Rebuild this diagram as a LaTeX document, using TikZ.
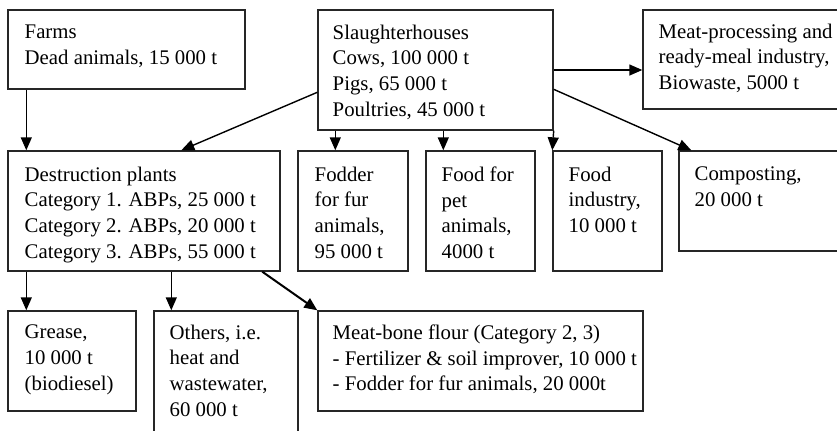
\documentclass[tikz,border=0pt]{standalone}
\usepackage{fontspec}
\setmainfont{Liberation Serif}
\usetikzlibrary{arrows.meta,positioning,calc,fit}
\tikzset{
  box/.style={draw=black!85,line width=.7pt,inner sep=0pt},
  boxtext/.style={anchor=north west,align=left,inner sep=0pt,font=\fontsize{10.4}{12.9}\selectfont,execute at begin node=\strut},
  flow/.style={-{Triangle[length=6.5pt,width=5.5pt]},draw=black,line width=.7pt}
}
\begin{document}
\begin{tikzpicture}[x=0.5pt,y=-0.5pt]
      \useasboundingbox (0,0) rectangle (837,430);
      % top row
      \node[box,fit={(8,10) (245,89)}] (farms) {};
      \node[box,fit={(318,10) (553,130)}] (slaughter) {};
      \node[box,fit={(643,10) (850,109)}] (meat) {};
      \node[boxtext] (farms-txt) at ($(farms.north west)+(17,15)$) {Farms\\Dead animals, 15 000 t};
      \node[boxtext] (slaughter-txt) at ($(slaughter.north west)+(15,15)$) {Slaughterhouses\\Cows, 100 000 t\\Pigs, 65 000 t\\Poultries, 45 000 t};
      \node[boxtext] (meat-txt) at ($(meat.north west)+(16,14)$) {Meat-processing and\\ready-meal industry,\\Biowaste, 5000 t};
      % middle row
      \node[box,fit={(8,151) (280,271)}] (destr) {};
      \node[box,fit={(298,151) (408,271)}] (fodder) {};
      \node[box,fit={(426,151) (535,271)}] (pet) {};
      \node[box,fit={(553,151) (662,271)}] (foodind) {};
      \node[box,fit={(679,151) (850,251)}] (compost) {};
      \node[boxtext] (destr-txt) at ($(destr.north west)+(17,16)$) {Destruction plants\\Category 1. ABPs, 25 000 t\\Category 2. ABPs, 20 000 t\\Category 3. ABPs, 55 000 t};
      \node[boxtext] (fodder-txt) at ($(fodder.north west)+(17,16)$) {Fodder\\for fur\\animals,\\95 000 t};
      \node[boxtext] (pet-txt) at ($(pet.north west)+(16,16)$) {Food for\\pet\\animals,\\4000 t};
      \node[boxtext] (foodind-txt) at ($(foodind.north west)+(16,16)$) {Food\\industry,\\10 000 t};
      \node[boxtext] (compost-txt) at ($(compost.north west)+(16,16)$) {Composting,\\20 000 t};
      % bottom row
      \node[box,fit={(8,311) (136,411)}] (grease) {};
      \node[box,fit={(154,311) (298,445)}] (others) {};
      \node[box,fit={(318,311) (643,411)}] (meatbone) {};
      \node[boxtext] (grease-txt) at ($(grease.north west)+(17,14)$) {Grease,\\10 000 t\\(biodiesel)};
      \node[boxtext] (others-txt) at ($(others.north west)+(16,14)$) {Others, i.e.\\heat and\\wastewater,\\60 000 t};
      \node[boxtext] (meatbone-txt) at ($(meatbone.north west)+(15,14)$) {Meat-bone flour (Category 2, 3)\\- Fertilizer \& soil improver, 10 000 t\\- Fodder for fur animals, 20 000t};
      % arrows
      \draw[flow] ($(farms.south west)+(19,0)$) -- ($(destr.north west)+(19,0)$);
      \draw[flow] ($(slaughter.north west)+(0,83)$) -- ($(destr.north west)+(174,0)$);
      \draw[flow] ($(slaughter.south west)+(18,0)$) -- ($(fodder.north west)+(38,0)$);
      \draw[flow] ($(slaughter.south west)+(126,0)$) -- ($(pet.north west)+(18,0)$);
      \draw[flow] (slaughter.south east) -- (foodind.north west);
      \draw[flow] (slaughter.east) -- (slaughter.east -| meat.west);
      \draw[flow] ($(slaughter.north east)+(0,80)$) -- ($(compost.north west)+(13,0)$);
      \draw[flow] ($(destr.south west)+(19,0)$) -- ($(grease.north west)+(19,0)$);
      \draw[flow] ($(destr.south west)+(164,0)$) -- ($(others.north west)+(18,0)$);
      \draw[flow,line width=1pt] ($(destr.south west)+(255,0)$) -- (meatbone.north west);
    \end{tikzpicture}
\end{document}
